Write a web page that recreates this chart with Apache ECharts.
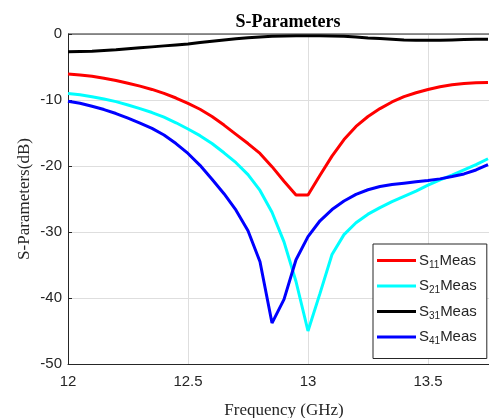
<!DOCTYPE html>
<html>
<head>
<meta charset="utf-8">
<script src="https://cdn.jsdelivr.net/npm/echarts@6/dist/echarts.min.js"></script>
<style>html,body{margin:0;padding:0;background:#fff}#c{width:489px;height:418px}</style>
</head>
<body>
<div id="c"></div>
<script>
var freq = [12.00,12.05,12.10,12.15,12.20,12.25,12.30,12.35,12.40,12.45,12.50,12.55,12.60,12.65,12.70,12.75,12.80,12.85,12.90,12.95,13.00,13.05,13.10,13.15,13.20,13.25,13.30,13.35,13.40,13.45,13.50,13.55,13.60,13.65,13.70,13.75];
var s11 = [-6.05,-6.2,-6.4,-6.7,-7.05,-7.45,-7.9,-8.4,-9.0,-9.7,-10.5,-11.4,-12.5,-13.8,-15.2,-16.6,-18.1,-20.1,-22.3,-24.4,-24.4,-21.4,-18.5,-16.0,-14.0,-12.5,-11.3,-10.3,-9.5,-8.9,-8.4,-8.0,-7.7,-7.5,-7.4,-7.35];
var s21 = [-9.0,-9.2,-9.5,-9.85,-10.25,-10.75,-11.3,-11.9,-12.6,-13.45,-14.4,-15.4,-16.6,-18.0,-19.5,-21.3,-23.7,-27.0,-31.5,-37.5,-45.0,-39.3,-33.4,-30.4,-28.6,-27.3,-26.3,-25.4,-24.6,-23.8,-22.9,-22.1,-21.4,-20.6,-19.8,-18.9];
var s31 = [-2.7,-2.65,-2.6,-2.5,-2.4,-2.25,-2.1,-1.95,-1.8,-1.65,-1.5,-1.3,-1.1,-0.9,-0.72,-0.57,-0.45,-0.35,-0.3,-0.25,-0.25,-0.25,-0.3,-0.35,-0.45,-0.6,-0.7,-0.8,-0.9,-0.95,-0.95,-0.95,-0.9,-0.85,-0.8,-0.8];
var s41 = [-10.2,-10.5,-10.95,-11.45,-12.05,-12.75,-13.5,-14.3,-15.3,-16.6,-18.1,-19.9,-22.0,-24.2,-26.7,-29.8,-34.5,-43.8,-40.2,-34.2,-30.7,-28.3,-26.6,-25.3,-24.3,-23.6,-23.1,-22.8,-22.6,-22.4,-22.2,-21.95,-21.6,-21.2,-20.6,-19.8];
var seriesNames = ['S11Meas','S21Meas','S31Meas','S41Meas'];
var subs = {'S11Meas':'11','S21Meas':'21','S31Meas':'31','S41Meas':'41'};
var colors = ['#ff0000','#00ffff','#000000','#0000ff'];
var xTicks = {min:12, max:13.8, interval:0.5};
var yTicks = {min:-50, max:0, interval:10};

function pairs(v){ return freq.map(function(f,i){ return [f, v[i]]; }); }
var allData = [s11, s21, s31, s41];

var chart = echarts.init(document.getElementById('c'));
chart.setOption({
  animation:false,
  backgroundColor:'#fff',
  title:{text:'S-Parameters', left:283, textAlign:'center', top:8,
    textStyle:{fontFamily:'Liberation Serif', fontWeight:'bold', fontSize:18, color:'#000'}},
  grid:{left:68, top:34, width:432, height:330, containLabel:false, outerBoundsMode:'none'},
  xAxis:{type:'value', min:xTicks.min, max:xTicks.max, interval:xTicks.interval,
    name:'Frequency (GHz)', nameLocation:'middle', nameGap:38, nameMoveOverlap:false,
    nameTextStyle:{fontFamily:'Liberation Serif', fontSize:17, color:'#262626'},
    axisLine:{show:true, onZero:false, lineStyle:{color:'#262626', width:1}},
    axisTick:{show:false},
    axisLabel:{showMaxLabel:false, fontFamily:'Liberation Sans', fontSize:15, color:'#262626', margin:10,
      formatter:function(v){return String(v);}},
    splitLine:{show:true, lineStyle:{color:'#dedede', width:1}}},
  yAxis:{type:'value', min:yTicks.min, max:yTicks.max, interval:yTicks.interval,
    name:'S-Parameters(dB)', nameLocation:'middle', nameGap:35, nameMoveOverlap:false,
    nameTextStyle:{fontFamily:'Liberation Serif', fontSize:17, color:'#262626'},
    axisLine:{show:true, onZero:false, lineStyle:{color:'#262626', width:1}},
    axisTick:{show:true, inside:true, length:4, lineStyle:{color:'#262626'}},
    axisLabel:{fontFamily:'Liberation Sans', fontSize:15, color:'#262626', margin:6},
    splitLine:{show:true, lineStyle:{color:'#dedede', width:1}}},
  legend:{orient:'vertical', left:373, top:244,
    backgroundColor:'#fff', borderColor:'#262626', borderWidth:1, padding:[7,10,12,4],
    itemGap:6.5, itemWidth:39, itemHeight:3, icon:'rect',
    data:seriesNames,
    formatter:function(n){ return '{m|S}{s|'+subs[n]+'}{m|Meas}'; },
    textStyle:{padding:[0,0,0,-2], rich:{
      m:{fontFamily:'Liberation Sans', fontSize:15, color:'#262626', lineHeight:20},
      s:{fontFamily:'Liberation Sans', fontSize:10, color:'#262626', padding:[9,0,0,0], lineHeight:20}
    }}},
  series: allData.map(function(d,i){ return {
    name:seriesNames[i], type:'line', data:pairs(d), showSymbol:false, symbol:'none',
    lineStyle:{color:colors[i], width:3}, itemStyle:{color:colors[i]}, z: 2+i
  };})
});
chart.setOption({graphic:[{type:'line', shape:{x1:68, y1:34, x2:489, y2:34}, style:{stroke:'#262626', lineWidth:1}, z:100}]});
</script>
</body>
</html>
